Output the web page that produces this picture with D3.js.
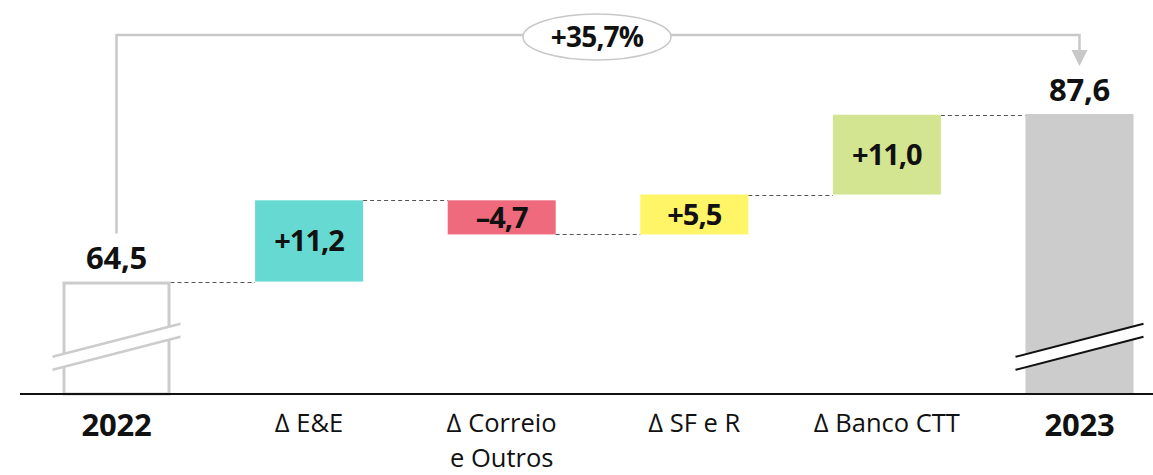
<!DOCTYPE html>
<html>
<head>
<meta charset="utf-8">
<script src="https://cdn.jsdelivr.net/npm/d3@7"></script>
<style>
  html, body { margin: 0; padding: 0; background: #fff; }
  svg { display: block; }
  text { font-family: "Open Sans", "DejaVu Sans", sans-serif; fill: #111; }
</style>
</head>
<body>
<script>
// ---- data ----
const categories = ["2022", "∆ E&E", "∆ Correio|e Outros", "∆ SF e R", "∆ Banco CTT", "2023"];
const kinds = ["start", "delta", "delta", "delta", "delta", "end"];
const values = [64.5, 11.2, -4.7, 5.5, 11.0, 87.6];
const valueLabels = ["64,5", "+11,2", "–4,7", "+5,5", "+11,0", "87,6"];
const barColors = ["#ffffff", "#66dad2", "#ee6a7c", "#fff566", "#d4e592", "#cccccc"];
const growthLabel = "+35,7%";
const axisMin = 49;      // broken axis: visible part of the scale starts here
const breakValue = 56.4; // where the axis-break marks sit

const W = 1153, H = 475;
const svg = d3.select("body").append("svg").attr("width", W).attr("height", H);

const x = d3.scalePoint().domain(categories).range([116.5, 1079.5]);
const bw = 108;
const y = d3.scaleLinear().domain([axisMin, 87.6]).range([394, 114]);

// compute running totals
let run = 0;
const bars = categories.map((c, i) => {
  let lo, hi, end;
  if (kinds[i] === "start") { lo = axisMin; hi = values[i]; run = values[i]; end = run; }
  else if (kinds[i] === "end") { lo = axisMin; hi = values[i]; end = values[i]; }
  else { const prev = run; run = run + values[i]; lo = Math.min(prev, run); hi = Math.max(prev, run); end = run; }
  return { c, i, lo, hi, end, kind: kinds[i] };
});

// dashed connectors
for (let i = 0; i < bars.length - 1; i++) {
  const v = bars[i].end;
  svg.append("line")
    .attr("x1", x(bars[i].c) + bw / 2).attr("x2", x(bars[i + 1].c) - bw / 2)
    .attr("y1", Math.round(y(v)) + 0.5).attr("y2", Math.round(y(v)) + 0.5)
    .attr("stroke", "#555").attr("stroke-width", 1).attr("stroke-dasharray", "4,3");
}

// bars
bars.forEach(b => {
  const r = svg.append("rect")
    .attr("x", x(b.c) - bw / 2)
    .attr("y", y(b.hi))
    .attr("width", bw)
    .attr("height", y(b.lo) - y(b.hi))
    .attr("fill", barColors[b.i]);
  if (b.kind === "start") {
    r.attr("x", x(b.c) - bw / 2 + 1.5).attr("width", bw - 3)
     .attr("y", y(b.hi) + 1.5).attr("height", y(b.lo) - y(b.hi) - 1.5)
     .attr("stroke", "#cccccc").attr("stroke-width", 3);
  }
});

// axis break marks
function breakMark(cat, color, width) {
  const cx = x(cat), cy = y(breakValue);
  const half = 64, rise = 16.5, gap = 13;
  const x1 = cx - half, x2 = cx + half;
  svg.append("path")
    .attr("d", `M${x1},${cy + rise} L${x2},${cy - rise} L${x2},${cy - rise + gap} L${x1},${cy + rise + gap} Z`)
    .attr("fill", "#fff");
  [0, gap].forEach(o => {
    svg.append("line")
      .attr("x1", x1).attr("y1", cy + rise + o)
      .attr("x2", x2).attr("y2", cy - rise + o)
      .attr("stroke", color).attr("stroke-width", width);
  });
}
breakMark("2022", "#cccccc", 2.5);
breakMark("2023", "#111111", 2);

// axis baseline
svg.append("line").attr("x1", 20).attr("x2", W).attr("y1", 394).attr("y2", 394)
  .attr("stroke", "#111").attr("stroke-width", 2);

// value labels
bars.forEach(b => {
  if (b.kind === "delta") {
    svg.append("text")
      .attr("x", x(b.c)).attr("y", (y(b.lo) + y(b.hi)) / 2)
      .attr("dy", "0.36em").attr("text-anchor", "middle")
      .attr("font-size", 29).attr("font-weight", 700)
      .attr("letter-spacing", -1)
      .text(valueLabels[b.i]);
  } else {
    svg.append("text")
      .attr("x", x(b.c)).attr("y", y(b.hi) - 13)
      .attr("text-anchor", "middle")
      .attr("font-size", 31).attr("font-weight", 700)
      .attr("letter-spacing", -0.3)
      .text(valueLabels[b.i]);
  }
});

// category labels (one text element per line)
categories.forEach((c, i) => {
  const lines = c.split("|");
  const isDelta = kinds[i] === "delta";
  lines.forEach((l, k) => {
    svg.append("text")
      .attr("x", x(c)).attr("y", (isDelta ? 432 : 436) + k * 35)
      .attr("text-anchor", "middle")
      .attr("font-size", isDelta ? 25.5 : 31)
      .attr("font-weight", isDelta ? 400 : 700)
      .attr("letter-spacing", isDelta ? 0 : -0.2)
      .text(l);
  });
});

// growth annotation
const xs = x(categories[0]), xe = x(categories[categories.length - 1]);
const topY = 35;
svg.append("path")
  .attr("d", `M${xs},${y(values[0]) - 48} L${xs},${topY} L${xe},${topY} L${xe},${52}`)
  .attr("fill", "none").attr("stroke", "#c8c8c8").attr("stroke-width", 2.5);
svg.append("path")
  .attr("d", `M${xe - 8},${50} L${xe + 8},${50} L${xe},${66} Z`)
  .attr("fill", "#c8c8c8");
const ex = 597;
svg.append("ellipse").attr("cx", ex).attr("cy", 37).attr("rx", 74).attr("ry", 23)
  .attr("fill", "#fff").attr("stroke", "#c8c8c8").attr("stroke-width", 1.5);
svg.append("text").attr("x", ex).attr("y", 37).attr("dy", "0.36em")
  .attr("text-anchor", "middle").attr("font-size", 28).attr("font-weight", 700)
  .attr("letter-spacing", -0.8)
  .text(growthLabel);
</script>
</body>
</html>
